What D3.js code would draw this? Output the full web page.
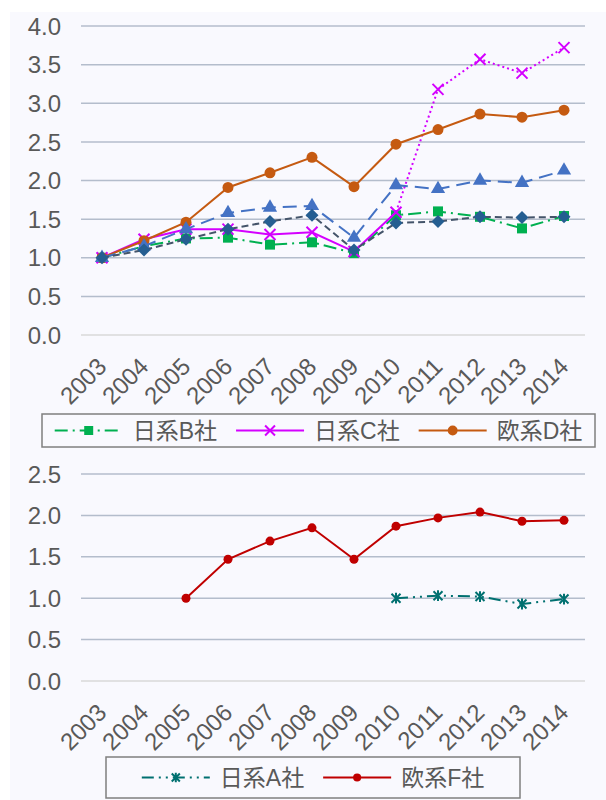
<!DOCTYPE html>
<html>
<head>
<meta charset="utf-8">
<script src="https://cdn.jsdelivr.net/npm/d3@7"></script>
<style>
	body { margin: 0; background: #fff; }
	svg text { font-family: "Liberation Sans", Arial, "Noto Sans CJK JP", sans-serif; fill: #595959; }
</style>
</head>
<body>
<div id="chart"></div>
<script>

// years on the x axis (both panels)
const years = ['2003','2004','2005','2006','2007','2008','2009','2010','2011','2012','2013','2014'];

// y ticks
const ticksTop = [0, 0.5, 1, 1.5, 2, 2.5, 3, 3.5, 4];
const ticksBottom = [0, 0.5, 1, 1.5, 2, 2.5];

// top panel series
const companyB = [1.00, 1.15, 1.25, 1.26, 1.17, 1.20, 1.06, 1.55, 1.60, 1.53, 1.38, 1.54];
const companyC = [1.00, 1.24, 1.37, 1.37, 1.30, 1.33, 1.08, 1.59, 3.18, 3.57, 3.39, 3.72];
const companyD = [1.00, 1.22, 1.46, 1.91, 2.10, 2.30, 1.92, 2.47, 2.66, 2.86, 2.82, 2.91];
const companyE = [1.00, 1.15, 1.37, 1.58, 1.65, 1.67, 1.26, 1.94, 1.89, 2.00, 1.97, 2.13];
const companyG = [1.00, 1.10, 1.24, 1.37, 1.47, 1.55, 1.10, 1.45, 1.47, 1.53, 1.52, 1.53];

// bottom panel series
const companyA = [null, null, null, null, null, null, null, 1.00, 1.03, 1.02, 0.93, 0.99];
const companyF = [null, null, 1.00, 1.47, 1.69, 1.85, 1.47, 1.87, 1.97, 2.04, 1.93, 1.94];

// legend labels
const legendTop = ['日系B社', '日系C社', '欧系D社'];
const legendBottom = ['日系A社', '欧系F社'];


const width = 606, height = 800;
const fontSize = '24px';
const legendFont = '23px';

const svg = d3.select('#chart').append('svg')
	.attr('width', width)
	.attr('height', height);

// light panel behind both charts
svg.append('rect')
	.attr('x', 10)
	.attr('y', 12)
	.attr('width', width - 10)
	.attr('height', height - 12)
	.style('fill', '#f9f9fe');


// marker shapes
function markerPath(shape, r){
	if (shape == 'x'){
		return `M${-r},${-r}L${r},${r}M${-r},${r}L${r},${-r}`;
	}
	if (shape == 'star'){
		return `M${-r},${-r}L${r},${r}M${-r},${r}L${r},${-r}M0,${-r * 1.2}L0,${r * 1.2}`;
	}
	if (shape == 'diamond' || shape == 'square') return d3.symbol(d3.symbolSquare, r * r * 4)();
	if (shape == 'triangle') return d3.symbol(d3.symbolTriangle, r * r * 2.3)();
	return d3.symbol(d3.symbolCircle, Math.PI * r * r)();
}

function drawMarker(g, s, x, y){
	const p = g.append('path')
		.attr('d', markerPath(s.marker, s.size))
		.attr('transform', `translate(${x},${y})` + (s.marker == 'diamond' ? ' rotate(45)' : ''));
	if (s.marker == 'x' || s.marker == 'star'){
		p.style('fill', 'none').style('stroke', s.markerColor).style('stroke-width', 2);
	} else {
		p.style('fill', s.markerColor).style('stroke', 'none');
	}
}


function drawPanel(opts){
	const g = svg.append('g');

	const x = d3.scalePoint()
		.domain(years)
		.range([81, 585])
		.padding(0.5);

	const y = d3.scaleLinear()
		.domain(opts.domain)
		.range(opts.yRange);

	// gridlines
	g.append('g').selectAll('line')
		.data(opts.ticks)
		.enter()
			.append('line')
				.attr('x1', 81)
				.attr('x2', 585)
				.attr('y1', d => y(d))
				.attr('y2', d => y(d))
				.style('stroke', d => d == 0 ? '#d9d9d9' : '#b4bdcc')
				.style('stroke-width', 1.5);

	// y tick labels
	g.append('g').selectAll('text')
		.data(opts.ticks)
		.enter()
			.append('text')
				.attr('x', 61)
				.attr('y', d => y(d))
				.attr('dy', '0.36em')
				.attr('text-anchor', 'end')
				.style('font-size', fontSize)
				.text(d3.format('.1f'));

	// x tick labels, rotated
	const base = y(0) + 33;
	g.append('g').selectAll('text')
		.data(years)
		.enter()
			.append('text')
				.attr('transform', d => `translate(${x(d) + 6},${base}) rotate(-45)`)
				.attr('text-anchor', 'end')
				.style('font-size', fontSize)
				.text(d => d);

	// series lines + markers
	opts.series.forEach(s => {
		const segments = s.segments || [{from: 0, to: years.length - 1, dash: s.dash}];
		segments.forEach(seg => {
			const line = d3.line()
				.defined((d, i) => d != null && i >= seg.from && i <= seg.to)
				.x((d, i) => x(years[i]))
				.y(d => y(d));
			g.append('path')
				.datum(s.values)
				.attr('d', line)
				.style('fill', 'none')
				.style('stroke', s.lineColor)
				.style('stroke-width', 2)
				.style('stroke-dasharray', seg.dash || null);
		});
		const mg = g.append('g');
		s.values.forEach((v, i) => {
			if (v == null) return;
			drawMarker(mg, s, x(years[i]), y(v));
		});
	});

	// legend
	const lg = g.append('g');
	lg.append('rect')
		.attr('x', opts.legendBox[0])
		.attr('y', opts.legendBox[1])
		.attr('width', opts.legendBox[2])
		.attr('height', opts.legendBox[3])
		.style('fill', 'none')
		.style('stroke', '#7f7f7f')
		.style('stroke-width', 1.5);

	const cy = opts.legendBox[1] + opts.legendBox[3] / 2;
	const items = opts.series.filter(s => s.label);
	const texts = [];
	let totalW = 0;
	items.forEach((s, i) => {
		const t = lg.append('text')
			.attr('y', cy)
			.attr('dy', '0.36em')
			.style('font-size', legendFont)
			.text(s.label);
		texts.push(t);
		totalW += 68 + 10 + t.node().getComputedTextLength() + (i < items.length - 1 ? 19 : 0);
	});

	let cx = opts.legendBox[0] + (opts.legendBox[2] - totalW) / 2;
	items.forEach((s, i) => {
		lg.append('line')
			.attr('x1', cx)
			.attr('x2', cx + 68)
			.attr('y1', cy)
			.attr('y2', cy)
			.style('stroke', s.lineColor)
			.style('stroke-width', 2)
			.style('stroke-dasharray', s.dash || null);
		drawMarker(lg, Object.assign({}, s, {size: s.size * 0.9}), cx + 34, cy);
		texts[i].attr('x', cx + 78);
		cx += 78 + texts[i].node().getComputedTextLength() + 19;
	});
}


// top panel
drawPanel({
	domain: [0, 4],
	yRange: [335, 26],
	ticks: ticksTop,
	legendBox: [42, 414, 553, 33],
	series: [
		{label: legendTop[0], values: companyB, lineColor: '#00b050', markerColor: '#00b050', marker: 'square', size: 5, dash: '13,5,2,5'},
		{label: legendTop[1], values: companyC, lineColor: '#d400ff', markerColor: '#d400ff', marker: 'x', size: 5.5,
			segments: [{from: 0, to: 7, dash: null}, {from: 7, to: 11, dash: '2,3'}]},
		{label: legendTop[2], values: companyD, lineColor: '#c55a11', markerColor: '#c55a11', marker: 'circle', size: 5.5},
		{values: companyE, lineColor: '#4472c4', markerColor: '#4472c4', marker: 'triangle', size: 6.2, dash: '14,7'},
		{values: companyG, lineColor: '#44546a', markerColor: '#255e91', marker: 'diamond', size: 4.6, dash: '7,4'}
	]
});

// bottom panel
drawPanel({
	domain: [0, 2.5],
	yRange: [681, 474],
	ticks: ticksBottom,
	legendBox: [106, 757, 414, 41],
	series: [
		{label: legendBottom[0], values: companyA, lineColor: '#007070', markerColor: '#007070', marker: 'star', size: 4.5, dash: '12,5,2,5,2,5'},
		{label: legendBottom[1], values: companyF, lineColor: '#c00000', markerColor: '#c00000', marker: 'circle', size: 4.5}
	]
});

</script>
</body>
</html>
